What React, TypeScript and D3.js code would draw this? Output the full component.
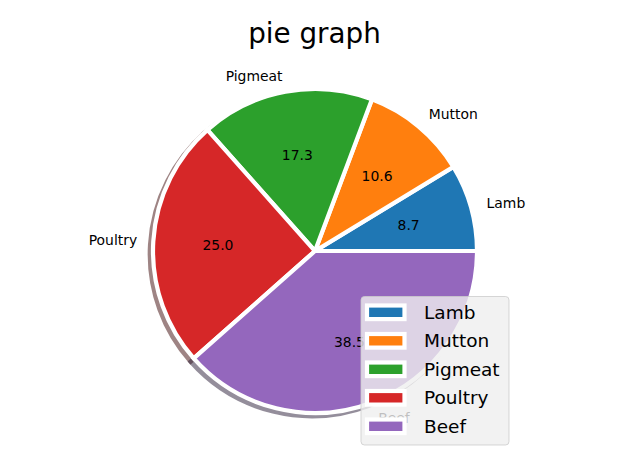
import * as d3 from 'd3'

// data
const categories = ['Lamb', 'Mutton', 'Pigmeat', 'Poultry', 'Beef']
const shares = [8.7, 10.6, 17.3, 25.0, 38.5]
const colors = ['#1f77b4', '#ff7f0e', '#2ca02c', '#d62728', '#9467bd']

const W = 628
const H = 475
const cx = 315
const cy = 251
const R = 162
const edge = 4.2
const font = 'DejaVu Sans, sans-serif'

type Slice = { name: string; value: number; color: string }

const rows: Slice[] = categories.map((name, i) => ({ name, value: shares[i], color: colors[i] }))

export default function App() {
  // matplotlib draws from 3 o'clock going counterclockwise
  const pie = d3.pie<Slice>()
    .value(d => d.value)
    .sort(null)
    .startAngle(Math.PI / 2)
    .endAngle(Math.PI / 2 - Math.PI * 2)
  const arcs = pie(rows)
  const arc = d3.arc<d3.PieArcDatum<Slice>>().innerRadius(0).outerRadius(R)

  const at = (d: d3.PieArcDatum<Slice>, k: number) => {
    const m = (d.startAngle + d.endAngle) / 2
    return [Math.sin(m) * R * k, -Math.cos(m) * R * k]
  }

  const shadowOff = 0.02 * R
  const legendFs = 18.5
  const lx = 361
  const ly = 296.5
  const rowH = 28.5

  return (
    <div style={{ position: 'absolute', left: 0, top: 0 }}>
      <svg width={W} height={H} style={{ display: 'block', background: '#fff' }}>
        <text x={314.5} y={43} textAnchor="middle" fontFamily={font} fontSize={27.8} fill="#000">
          pie graph
        </text>

        {/* shadow */}
        <g transform={`translate(${cx - shadowOff},${cy + shadowOff})`}>
          {arcs.map((d, i) => {
            const c = d3.rgb(d.data.color)
            const dark = d3.rgb(c.r * 0.3, c.g * 0.3, c.b * 0.3).toString()
            return (
              <path key={i} d={arc(d) ?? ''} fill={dark} stroke={dark} strokeWidth={edge}
                strokeLinejoin="miter" opacity={0.5} />
            )
          })}
        </g>

        <g transform={`translate(${cx},${cy})`}>
          {arcs.map((d, i) => (
            <path key={i} d={arc(d) ?? ''} fill={d.data.color} stroke="#fff" strokeWidth={edge}
              strokeLinejoin="miter" />
          ))}
          {arcs.map((d, i) => {
            const [x, y] = at(d, 1.1)
            return (
              <text key={'l' + i} x={x} y={y} textAnchor={x > 0 ? 'start' : 'end'}
                dominantBaseline="central" fontFamily={font} fontSize={13.9} fill="#000">
                {d.data.name}
              </text>
            )
          })}
          {arcs.map((d, i) => {
            const [x, y] = at(d, 0.6)
            return (
              <text key={'p' + i} x={x} y={y} textAnchor="middle"
                dominantBaseline="central" fontFamily={font} fontSize={13.9} fill="#000">
                {d.data.value.toFixed(1)}
              </text>
            )
          })}
        </g>

        {/* legend */}
        <rect x={lx} y={ly} width={148} height={148.5} rx={3.5} fill="#efefef" fillOpacity={0.8}
          stroke="#cccccc" strokeOpacity={0.8} strokeWidth={1} />
        {rows.map((d, i) => {
          const yc = 312.3 + i * rowH
          return (
            <g key={i}>
              <rect x={367} y={yc - 6.8} width={37.5} height={13.6} fill={d.color}
                stroke="#fff" strokeWidth={edge} />
              <text x={424} y={yc} dominantBaseline="central" fontFamily={font}
                fontSize={legendFs} fill="#000">
                {d.name}
              </text>
            </g>
          )
        })}
      </svg>
    </div>
  )
}
